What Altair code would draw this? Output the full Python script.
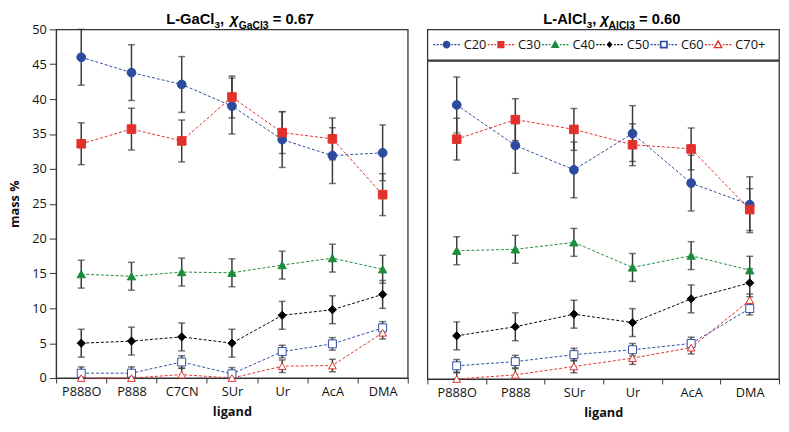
import altair as alt
import pandas as pd
import numpy as np

series = ["C20", "C30", "C40", "C50", "C60", "C70+"]

# L-GaCl3 panel
ga_ligands = ["P888O", "P888", "C7CN", "SUr", "Ur", "AcA", "DMA"]
ga_c20 = [46.0, 43.8, 42.1, 39.0, 34.2, 31.9, 32.3]
ga_c30 = [33.6, 35.7, 34.0, 40.3, 35.2, 34.3, 26.3]
ga_c40 = [14.9, 14.6, 15.2, 15.1, 16.2, 17.2, 15.6]
ga_c50 = [5.0, 5.3, 5.9, 5.0, 9.0, 9.8, 12.0]
ga_c60 = [0.7, 0.7, 2.3, 0.6, 3.8, 4.9, 7.2]
ga_c70 = [0.0, 0.0, 0.5, 0.0, 1.7, 1.8, 6.5]

# L-AlCl3 panel
al_ligands = ["P888O", "P888", "SUr", "Ur", "AcA", "DMA"]
al_c20 = [39.3, 33.5, 30.0, 35.2, 28.1, 25.0]
al_c30 = [34.4, 37.2, 35.8, 33.6, 33.0, 24.3]
al_c40 = [18.4, 18.6, 19.6, 16.0, 17.7, 15.6]
al_c50 = [6.2, 7.5, 9.3, 8.1, 11.5, 13.8]
al_c60 = [1.9, 2.5, 3.5, 4.2, 5.1, 10.1]
al_c70 = [0.0, 0.6, 1.8, 3.0, 4.5, 11.3]

# error bar half-widths per series
errors = [4.0, 3.0, 2.0, 2.0, 0.9, 0.9]

colors = ["#2B4C9E", "#E2312B", "#1C8C3C", "#000000", "#2B4C9E", "#E2312B"]
fills = ["#2B4C9E", "#E2312B", "#1C8C3C", "#000000", "#FFFFFF", "#FFFFFF"]
shapes = ["circle", "square", "triangle-up", "diamond", "square", "triangle-up"]
sizes = [80, 62, 80, 45, 66, 90]
stroke_widths = [1, 1, 1, 1, 2, 2]


def dashes():
    segs = [(-1.0, -0.84), (-0.74, -0.58), (-0.48, -0.36), (0.36, 0.48), (0.58, 0.74), (0.84, 1.0)]
    h = 0.045
    return "".join(f"M{a},{-h}L{b},{-h}L{b},{h}L{a},{h}Z" for a, b in segs)


legend_paths = [
    dashes() + "M-0.3,0A0.3,0.3,0,1,1,0.3,0A0.3,0.3,0,1,1,-0.3,0Z",
    dashes() + "M-0.27,-0.27L0.27,-0.27L0.27,0.27L-0.27,0.27Z",
    dashes() + "M0,-0.34L0.33,0.26L-0.33,0.26Z",
    dashes() + "M0,-0.26L0.22,0L0,0.26L-0.22,0Z",
    dashes() + "M-0.3,-0.3L0.3,-0.3L0.3,0.3L-0.3,0.3ZM-0.17,-0.17L-0.17,0.17L0.17,0.17L0.17,-0.17Z",
    dashes() + "M0,-0.38L0.37,0.28L-0.37,0.28ZM0,-0.16L-0.19,0.18L0.19,0.18Z",
]


def build_df(ligands, cols):
    rows = []
    for s, vals, e in zip(series, cols, errors):
        for i, (lig, v) in enumerate(zip(ligands, vals)):
            rows.append({"ligand": lig, "idx": i, "series": s, "value": v,
                         "lo": max(0.0, v - e), "hi": v + e})
    return pd.DataFrame(rows)


ga_df = build_df(ga_ligands, [ga_c20, ga_c30, ga_c40, ga_c50, ga_c60, ga_c70])
al_df = build_df(al_ligands, [al_c20, al_c30, al_c40, al_c50, al_c60, al_c70])
legend_df = pd.DataFrame({"series": series})

LABEL_FONT = "Open Sans"
TITLE_FONT = "Liberation Sans"
W, H = 358, 355
LEG_H = 31
YMAX = 50.0


def text_piece(txt, x, y, size, style="normal"):
    return alt.Chart(alt.Data(values=[{}])).mark_text(
        text=txt, font=TITLE_FONT, fontSize=size, fontWeight="bold", fontStyle=style,
        align="left", baseline="alphabetic", color="#000000"
    ).encode(x=alt.value(x), y=alt.value(y))


def data_layers(df, ligands, show_y, ymax):
    x = alt.X("ligand:N", sort=ligands,
              scale=alt.Scale(type="band", domain=ligands, paddingInner=0, paddingOuter=0),
              axis=alt.Axis(title="ligand", labelAngle=0, tickBand="extent", tickSize=5,
                            tickColor="#333", domainColor="#333", labelFont=LABEL_FONT,
                            labelFontSize=13, labelColor="#111", labelPadding=3,
                            titleFont=LABEL_FONT, titleFontSize=13, titleFontWeight="bold",
                            titleColor="#111", titlePadding=7, grid=False))
    if show_y:
        yaxis = alt.Axis(title="mass %", values=list(range(0, 51, 5)), tickSize=7,
                         tickColor="#333", domainColor="#333", labelFont=LABEL_FONT,
                         labelFontSize=13, labelColor="#111", labelPadding=3,
                         labelOverlap=False,
                         titleFont=LABEL_FONT, titleFontSize=13, titleFontWeight="bold",
                         titleColor="#111", titlePadding=10, grid=False)
    else:
        yaxis = None
    yscale = alt.Scale(domain=[0, ymax], nice=False, zero=True)

    def Y(field):
        return alt.Y(field, scale=yscale, axis=yaxis, title="mass %")

    base = alt.Chart(df)
    lines = base.mark_line(strokeDash=[3, 2], strokeWidth=1).encode(
        x=x, y=Y("value:Q"),
        stroke=alt.Stroke("series:N", scale=alt.Scale(domain=series, range=colors), legend=None),
        order=alt.Order("idx:Q"),
    )
    bars = base.mark_rule(color="#3a3a3a", strokeWidth=1.5).encode(
        x=x, y=Y("lo:Q"), y2="hi:Q")
    cap_lo = base.mark_tick(color="#3a3a3a", thickness=1.5, size=7).encode(
        x=x, y=Y("lo:Q"))
    cap_hi = base.mark_tick(color="#3a3a3a", thickness=1.5, size=7).encode(
        x=x, y=Y("hi:Q"))
    pts = base.mark_point(filled=False, opacity=1, fillOpacity=1).encode(
        x=x, y=Y("value:Q"),
        shape=alt.Shape("series:N", scale=alt.Scale(domain=series, range=shapes), legend=None),
        fill=alt.Fill("series:N", scale=alt.Scale(domain=series, range=fills), legend=None),
        stroke=alt.Stroke("series:N", scale=alt.Scale(domain=series, range=colors), legend=None),
        strokeWidth=alt.StrokeWidth("series:N", scale=alt.Scale(domain=series, range=stroke_widths), legend=None),
        size=alt.Size("series:N", scale=alt.Scale(domain=series, range=sizes), legend=None),
    )
    return [lines, bars, cap_lo, cap_hi, pts]


ga_title = [
    ("L-GaCl", 112, -5, 15),
    ("3", 161.2, -1, 10),
    (",", 166.8, -5, 15),
    ("χ", 177, -5, 15, "italic"),
    ("GaCl3", 186, 0, 10.5),
    ("= 0.67", 220.5, -5, 15),
]
al_title = [
    ("L-AlCl", 118, -5, 15),
    ("3", 162.2, -1, 10),
    (",", 167.8, -5, 15),
    ("χ", 176.2, -5, 15, "italic"),
    ("AlCl3", 184.5, 0, 10.5),
    ("= 0.60", 215.5, -5, 15),
]

# left panel
left = alt.layer(
    *data_layers(ga_df, ga_ligands, True, YMAX),
    *[text_piece(*p) for p in ga_title]
).properties(width=W, height=H)

# right panel: legend strip on top + plot below, sharing one frame
lx = alt.X("series:N", sort=series,
           scale=alt.Scale(type="point", domain=series, range=[19.5, 296], padding=0),
           axis=None)
leg_sym = alt.Chart(legend_df).mark_point(filled=True, opacity=1, size=729, strokeWidth=0).encode(
    x=lx, y=alt.value(LEG_H / 2),
    shape=alt.Shape("series:N", scale=alt.Scale(domain=series, range=legend_paths), legend=None),
    color=alt.Color("series:N", scale=alt.Scale(domain=series, range=colors), legend=None),
)
leg_txt = alt.Chart(legend_df).mark_text(
    align="left", baseline="middle", dx=17.5, font=LABEL_FONT, fontSize=13, color="#111"
).encode(x=lx, y=alt.value(LEG_H / 2), text="series:N")
legend_strip = alt.layer(
    leg_sym, leg_txt, *[text_piece(*p) for p in al_title]
).properties(width=W, height=LEG_H)

right_plot = alt.layer(
    *data_layers(al_df, al_ligands, False, YMAX * (H - LEG_H) / H)
).properties(width=W, height=H - LEG_H)

right = alt.vconcat(legend_strip, right_plot, spacing=-1).resolve_scale(
    x="independent", shape="independent", color="independent")

chart = alt.hconcat(left, right, spacing=16).resolve_scale(
    x="independent", y="independent", shape="independent", color="independent",
    fill="independent", stroke="independent", strokeWidth="independent", size="independent"
).configure_view(
    stroke="#333", strokeWidth=1.3
).properties(padding={"left": 0, "top": 0, "right": 0, "bottom": 0}, background="white")

chart.save("out.html", embed_options={"renderer": "svg", "actions": False})
